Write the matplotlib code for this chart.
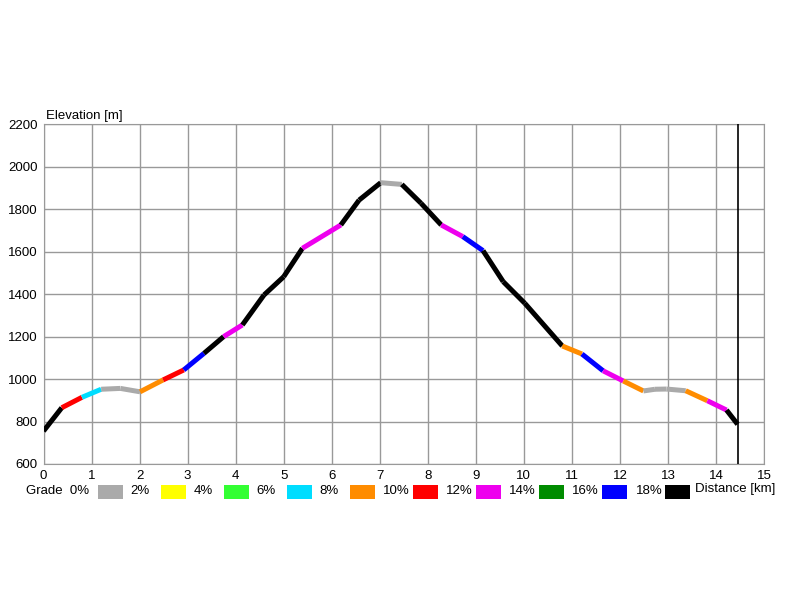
import numpy as np
import matplotlib
matplotlib.use('Agg')
import matplotlib.pyplot as plt
from matplotlib.collections import LineCollection
from matplotlib.colors import ListedColormap, BoundaryNorm
from matplotlib.patches import Rectangle

plt.rcParams['font.family'] = ['Liberation Sans', 'DejaVu Sans']

# profile points (km, m)
dist = [0, 0.38, 0.80, 1.20, 1.60, 2.01, 2.49, 2.92, 3.34, 3.75, 4.14, 4.59, 5.00,
        5.39, 6.19, 6.57, 7.02, 7.46, 7.86, 8.28, 8.73, 9.15, 9.57, 10.02, 10.80,
        11.21, 11.65, 12.07, 12.49, 12.73, 12.97, 13.37, 13.82, 14.22, 14.45]
elev = [755, 865, 914, 952, 956, 940, 996, 1043, 1121, 1200, 1255, 1396, 1482,
        1616, 1726, 1843, 1925, 1917, 1828, 1726, 1671, 1605, 1459, 1357, 1156,
        1118, 1039, 991, 944, 952, 953, 945, 898, 854, 787]
# grade class (lower bound, %) of each segment
grade = [18, 10, 6, 0, 0, 8, 10, 16, 18, 12, 18, 18, 18,
         12, 18, 18, 0, 18, 18, 12, 16, 18, 18, 18,
         8, 16, 12, 8, 0, 0, 0, 8, 12, 18]

grade_bins = [0, 2, 4, 6, 8, 10, 12, 14, 16, 18, 100]
grade_labels = ['2%', '4%', '6%', '8%', '10%', '12%', '14%', '16%', '18%']
grade_colors = ['#aaaaaa', '#ffff00', '#33ff33', '#00ddff', '#ff8c00',
                '#ff0000', '#ee00ee', '#008c00', '#0000ff', '#000000']
route_end = 14.45

fig = plt.figure(figsize=(8, 6), dpi=100)
ax = fig.add_axes([0.0544, 0.2267, 0.9006, 0.5661])

pts = np.column_stack([dist, elev])
segs = np.stack([pts[:-1], pts[1:]], axis=1)
cmap = ListedColormap(grade_colors)
norm = BoundaryNorm(grade_bins, cmap.N)
lc = LineCollection(segs, cmap=cmap, norm=norm, linewidths=3.6, capstyle='butt',
                    joinstyle='round', zorder=3)
lc.set_array(np.array(grade))
ax.add_collection(lc)

ax.axvline(route_end, color='black', lw=1.2, zorder=4)

ax.set_xlim(0, 15)
ax.set_ylim(600, 2200)
ax.set_xticks(range(0, 16))
ax.set_yticks(range(600, 2201, 200))
ax.grid(True, color='#999999', lw=1)
ax.set_axisbelow(True)
for s in ax.spines.values():
    s.set_color('#999999')
ax.tick_params(length=0, labelsize=9.5, pad=4)
ax.text(0.004, 1.008, 'Elevation [m]', transform=ax.transAxes, fontsize=9.5,
        ha='left', va='bottom')

# grade legend row
ly = 1 - 491 / 600
fig.text(26 / 800, ly, 'Grade  0%', fontsize=9.5, va='center')
for i, c in enumerate(grade_colors):
    x0 = (98 + 63 * i) / 800
    fig.patches.append(Rectangle((x0, 1 - 499 / 600), 25 / 800, 14 / 600,
                                 transform=fig.transFigure, facecolor=c,
                                 edgecolor='none'))
    if i < len(grade_labels):
        fig.text((130 + 63.2 * i) / 800, ly, grade_labels[i], fontsize=9.5, va='center')
fig.text(695 / 800, ly + 0.004, 'Distance [km]', fontsize=9.5, va='center')

fig.savefig('out.png', dpi=100)
